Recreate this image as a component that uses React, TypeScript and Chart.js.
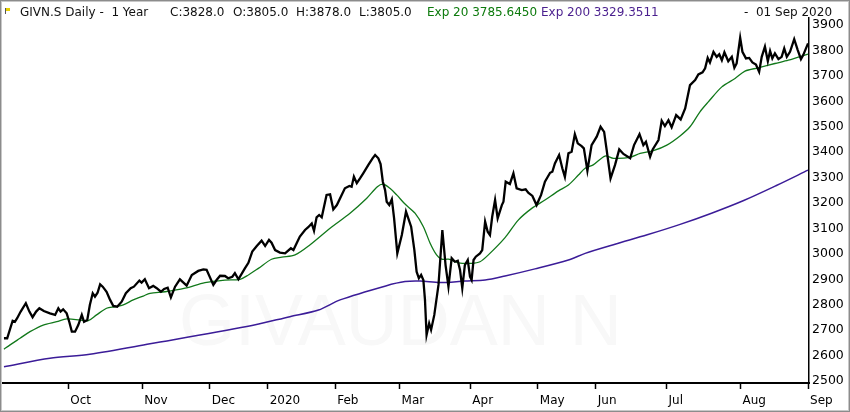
import { useEffect, useRef } from "react";
import { Chart, registerables } from "chart.js";

Chart.register(...registerables);

// x axis unit: trading days since the start of the 1-year window
const monthTickDays = [20, 43, 64, 82, 103, 123, 145, 166, 184, 206, 229, 250];
const monthLabels = ["Oct", "Nov", "Dec", "2020", "Feb", "Mar", "Apr", "May", "Jun", "Jul", "Aug", "Sep"];
const priceTicks = [2500, 2600, 2700, 2800, 2900, 3000, 3100, 3200, 3300, 3400, 3500, 3600, 3700, 3800, 3900];

const closeDays = [
  0, 1, 2.7, 3.4, 4.1, 5.2, 6.8, 7.9, 8.9, 10, 11, 12.4, 14.3, 15.9, 16.9, 17.6, 18.4, 19.5, 20.3, 21.1,
  22.1, 23.1, 24.2, 24.9, 25.9, 26.7, 27.6, 28.3, 29.1, 29.9, 30.7, 31.9, 33, 34, 35.2, 36.6, 37.9, 39.4, 40.4, 42.1,
  42.8, 43.8, 45.1, 46.4, 47.5, 48.8, 49.8, 50.9, 51.9, 53.2, 54.7, 56.8, 58.4, 60.4, 62, 63, 65.1, 66.1, 67.2, 68.7,
  69.7, 71, 71.8, 72.9, 74.9, 76, 77.2, 78.6, 80.1, 81.2, 82.4, 83.2, 84.3, 85.8, 87.4, 89.2, 90, 91, 92, 93.6,
  94.6, 95.7, 96.4, 97.2, 98, 98.8, 100.3, 101.4, 102.4, 103.5, 105, 106, 107.4, 108.1, 108.8, 109.7, 110.7, 111.7, 113.3, 114.6,
  115.4, 116.4, 117.1, 117.8, 118.5, 119, 119.8, 120.6, 121.3, 122.3, 123.7, 125, 126.6, 127.6, 128.3, 129, 129.7, 130.4, 130.9, 131.4,
  132.2, 132.8, 133.8, 135.1, 136.3, 137.3, 138.2, 139.2, 140.2, 141.1, 141.8, 142.5, 143.3, 144.2, 144.9, 145.4, 146, 146.7, 148, 148.7,
  149.6, 150.4, 151.1, 151.8, 152.7, 153.5, 154.8, 155.3, 156, 157.3, 158.4, 159.4, 161, 162.2, 163, 164.3, 165.6, 167, 168.2, 169.8,
  170.5, 171.3, 172.6, 173.6, 174.4, 175.5, 176.5, 177.5, 178.4, 179.6, 180.3, 181.4, 182.7, 184.3, 185.5, 186.6, 187.4, 188.6, 190, 191.3,
  192.6, 194.7, 195.9, 197.6, 198.8, 199.6, 200.9, 201.7, 203.5, 204.5, 205.5, 206.6, 207.6, 209, 210.4, 211.8, 213.3, 214.9, 215.9, 217.2,
  218, 218.8, 219.5, 220.6, 221.6, 222.4, 223.2, 224, 225.2, 226.3, 227.1, 227.8, 228.9, 229.6, 230.7, 231.7, 232.7, 233.8, 234.8, 235.6,
  236.6, 237.5, 238.2, 238.9, 239.7, 240.8, 241.8, 242.6, 243.4, 244.4, 245.7, 246.8, 247.8, 248.5, 250,
];
const closeValues = [
  2668, 2668, 2737, 2733, 2747, 2773, 2806, 2773, 2751, 2773, 2786, 2775, 2766, 2760, 2786, 2773, 2782, 2766, 2733, 2694,
  2694, 2720, 2760, 2733, 2740, 2799, 2845, 2832, 2847, 2880, 2871, 2851, 2819, 2795, 2792, 2812, 2845, 2865, 2871, 2895,
  2887, 2900, 2865, 2874, 2865, 2851, 2862, 2867, 2829, 2871, 2900, 2875, 2917, 2933, 2939, 2937, 2878, 2897, 2914, 2913,
  2904, 2910, 2924, 2900, 2943, 2965, 3009, 3031, 3052, 3031, 3055, 3044, 3015, 3005, 3002, 3022, 3015, 3042, 3068, 3094,
  3105, 3120, 3091, 3144, 3153, 3144, 3232, 3234, 3175, 3192, 3232, 3258, 3267, 3264, 3304, 3278, 3297, 3317, 3350, 3376,
  3389, 3376, 3353, 3284, 3251, 3205, 3192, 3215, 3140, 3002, 3074, 3166, 3107, 3015, 2930, 2904, 2917, 2897, 2819, 2681,
  2727, 2701, 2760, 2878, 3094, 2956, 2871, 2983, 2969, 2973, 2937, 2865, 2956, 2976, 2910, 2897, 2976, 2989, 3002, 3015,
  3127, 3087, 3074, 3146, 3212, 3140, 3192, 3205, 3284, 3275, 3317, 3258, 3251, 3254, 3241, 3228, 3192, 3232, 3284, 3319,
  3323, 3356, 3389, 3337, 3303, 3396, 3402, 3471, 3435, 3424, 3415, 3327, 3428, 3461, 3500, 3480, 3408, 3297, 3350, 3411,
  3393, 3376, 3428, 3471, 3428, 3441, 3382, 3411, 3448, 3524, 3503, 3526, 3498, 3546, 3529, 3572, 3664, 3684, 3706, 3714,
  3730, 3771, 3753, 3795, 3775, 3785, 3762, 3793, 3758, 3775, 3732, 3749, 3850, 3795, 3769, 3771, 3753, 3745, 3716, 3775,
  3815, 3758, 3798, 3769, 3789, 3766, 3775, 3808, 3775, 3795, 3845, 3802, 3766, 3782, 3828,
];

const exp20Days = [
  0, 1.9, 5, 8.1, 12.2, 16.4, 19.5, 23.6, 26.2, 28.8, 31.9, 34.5, 37.1, 40.2, 43.3, 45.4, 50.1, 56.3, 62.5, 68.7,
  73.4, 76, 79.1, 83.2, 86.4, 90.5, 95.1, 101.4, 107.6, 112.8, 116.1, 117.9, 120, 122.1, 124.7, 127.8, 130.4, 132.5, 134.5, 136.1,
  138.2, 141.3, 145.4, 148, 150.6, 155.8, 159.9, 164.1, 168.2, 172.4, 175.5, 178.6, 180.7, 183.2, 186.9, 189.5, 194.7, 197.8, 201.9, 206.1,
  210.2, 213.3, 216.4, 219, 223.2, 227.3, 230.4, 234.5, 239.7, 243.9, 250,
];
const exp20Values = [
  2625, 2642, 2668, 2694, 2720, 2733, 2744, 2740, 2737, 2760, 2786, 2792, 2799, 2819, 2834, 2845, 2851, 2865, 2887, 2897,
  2900, 2917, 2943, 2979, 2987, 2996, 3035, 3101, 3160, 3219, 3264, 3274, 3258, 3232, 3196, 3160, 3107, 3042, 2996, 2979,
  2979, 2965, 2963, 2969, 2996, 3064, 3133, 3179, 3212, 3248, 3271, 3310, 3337, 3350, 3385, 3376, 3380, 3395, 3406, 3428,
  3464, 3500, 3559, 3598, 3657, 3690, 3719, 3732, 3749, 3762, 3785.645,
];

const exp200Days = [
  0, 14.3, 26.7, 45.4, 75.5, 88.9, 97.8, 104.5, 118.7, 124.7, 129.4, 135.6, 143.3, 149.6, 155.8, 165.1, 175.5, 180.7, 190,
  200, 210, 220, 230, 240, 250,
];
const exp200Values = [
  2556, 2589, 2605, 2646, 2714, 2753, 2779, 2819, 2874, 2891, 2893, 2887, 2893, 2897, 2913, 2941, 2976, 3002, 3038,
  3075, 3115, 3160, 3210, 3268, 3329.3511,
];

const FONT = '"DejaVu Sans", Verdana, sans-serif';

const watermarkPlugin = {
  id: "watermark",
  beforeDatasetsDraw(chart: any) {
    const { ctx, chartArea } = chart;
    ctx.save();
    ctx.font = '72px "Liberation Sans", Arial, sans-serif';
    ctx.fillStyle = "#f8f8f8";
    ctx.textBaseline = "alphabetic";
    ctx.textAlign = "left";
    ctx.fillText("GIVAUDAN N", chartArea.left + 176, chartArea.bottom - 38);
    ctx.restore();
  },
};

export default function App() {
  const canvasRef = useRef<HTMLCanvasElement | null>(null);

  useEffect(() => {
    document.body.style.margin = "0";
    const canvas = canvasRef.current;
    if (!canvas) return;
    const toPoints = (xs: number[], ys: number[]) => xs.map((x, i) => ({ x, y: ys[i] }));
    const chart = new Chart(canvas, {
      type: "line",
      data: {
        datasets: [
          {
            label: "GIVN.S",
            data: toPoints(closeDays, closeValues),
            borderColor: "#000000",
            borderWidth: 2.3,
            pointRadius: 0,
            tension: 0,
            fill: false,
          },
          {
            label: "Exp 20",
            data: toPoints(exp20Days, exp20Values),
            borderColor: "#11781a",
            borderWidth: 1.3,
            pointRadius: 0,
            tension: 0.3,
            fill: false,
          },
          {
            label: "Exp 200",
            data: toPoints(exp200Days, exp200Values),
            borderColor: "#3b1c98",
            borderWidth: 1.5,
            pointRadius: 0,
            tension: 0.3,
            fill: false,
          },
        ],
      },
      options: {
        animation: false,
        responsive: false,
        maintainAspectRatio: false,
        layout: { padding: { left: 3, top: 18, right: 0, bottom: 0 } },
        plugins: {
          legend: { display: false },
          tooltip: { enabled: false },
          title: { display: false },
        },
        scales: {
          x: {
            type: "linear",
            min: -0.3,
            max: 250.3,
            afterBuildTicks: (s: any) => {
              s.ticks = monthTickDays.map((v) => ({ value: v }));
            },
            afterFit: (s: any) => {
              s.height = 29;
            },
            grid: {
              display: true,
              drawOnChartArea: false,
              drawTicks: true,
              tickLength: 6,
              tickColor: "#000",
              tickWidth: 1.5,
            },
            border: { display: true, color: "#000", width: 2 },
            ticks: {
              autoSkip: false,
              maxRotation: 0,
              minRotation: 0,
              align: "start",
              labelOffset: 2,
              padding: 5,
              color: "#000",
              font: { family: FONT, size: 12 },
              callback: (v: any) => monthLabels[monthTickDays.indexOf(Number(v))] ?? "",
            },
          },
          y: {
            type: "linear",
            position: "right",
            min: 2492,
            max: 3928,
            afterBuildTicks: (s: any) => {
              s.ticks = priceTicks.map((v) => ({ value: v }));
            },
            afterFit: (s: any) => {
              s.width = 41;
            },
            grid: { display: true, drawOnChartArea: false, drawTicks: false },
            border: { display: true, color: "#000", width: 1.5 },
            ticks: {
              padding: 3,
              color: "#000",
              font: { family: FONT, size: 12.5 },
              callback: (v: any) => String(v),
            },
          },
        },
      },
      plugins: [watermarkPlugin],
    } as any);
    return () => chart.destroy();
  }, []);

  const hdr: React.CSSProperties = {
    position: "absolute",
    top: 5,
    fontFamily: FONT,
    fontSize: 12,
    lineHeight: "14px",
    whiteSpace: "pre",
    color: "#111",
  };

  return (
    <div style={{ position: "fixed", left: 0, top: 0, width: 850, height: 412, background: "#fff", overflow: "hidden" }}>
      <canvas ref={canvasRef} width={850} height={412} style={{ position: "absolute", left: 0, top: 0, width: 850, height: 412 }} />
      <div style={{ position: "absolute", left: 5, top: 8, width: 1, height: 6, background: "#555" }} />
      <div style={{ position: "absolute", left: 6, top: 8, width: 4, height: 3, background: "#e8d000" }} />
      <span style={{ ...hdr, left: 20 }}>GIVN.S Daily -  1 Year</span>
      <span style={{ ...hdr, left: 170 }}>C:3828.0</span>
      <span style={{ ...hdr, left: 233 }}>O:3805.0</span>
      <span style={{ ...hdr, left: 296 }}>H:3878.0</span>
      <span style={{ ...hdr, left: 359 }}>L:3805.0</span>
      <span style={{ ...hdr, left: 427, color: "#0c7a0c" }}>Exp 20 3785.6450</span>
      <span style={{ ...hdr, left: 541, color: "#4a1f8e" }}>Exp 200 3329.3511</span>
      <span style={{ ...hdr, left: 744 }}>-  01 Sep 2020</span>
      <div
        style={{
          position: "absolute",
          left: 0,
          top: 0,
          width: 850,
          height: 412,
          boxSizing: "border-box",
          border: "1px solid #8c8c8c",
          boxShadow: "inset 0 0 0 1px #c8c8c8",
          pointerEvents: "none",
        }}
      />
    </div>
  );
}
